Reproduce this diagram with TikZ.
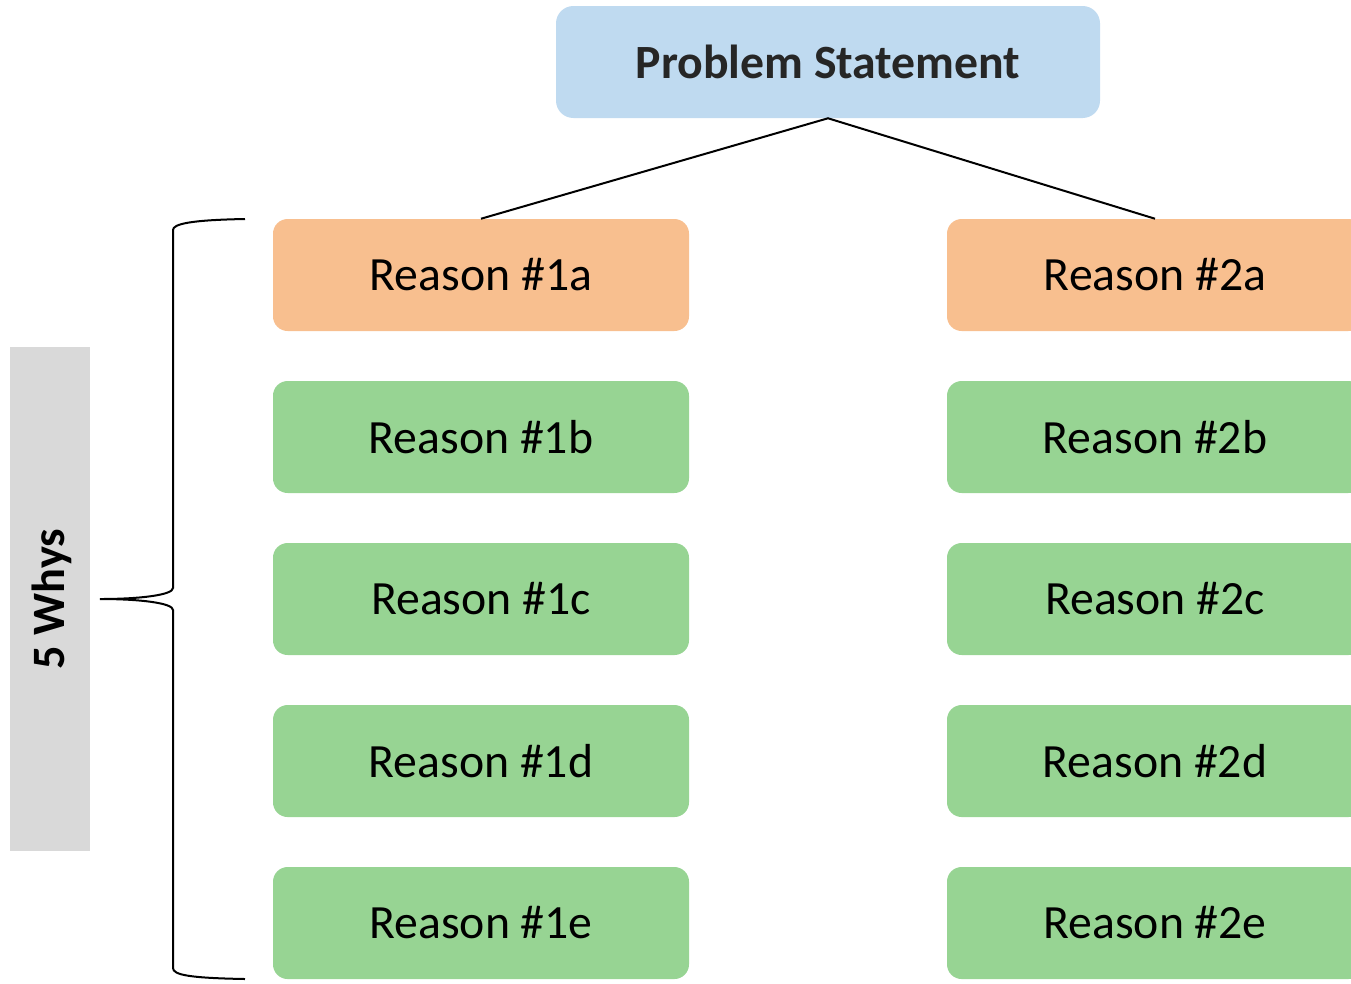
\documentclass[tikz,border=0pt]{standalone}
\usepackage{fontspec}
\setmainfont{Carlito}
\definecolor{psblue}{HTML}{BFDAF0}
\definecolor{orng}{HTML}{F8BF8F}
\definecolor{grn}{HTML}{97D493}
\definecolor{gry}{HTML}{D9D9D9}
\definecolor{dtext}{HTML}{262626}
\begin{document}
\begin{tikzpicture}[x=0.75pt,y=-0.75pt,
  box/.style={rounded corners=11pt, minimum width=312pt, minimum height=84pt, inner sep=0pt, font=\fontsize{35.8}{40}\selectfont, text=black},
  obox/.style={box, fill=orng},
  gbox/.style={box, fill=grn},
  link/.style={draw=black, line width=1.5pt}]
\useasboundingbox (0,0) rectangle (1351,983);
\clip (0,0) rectangle (1351,983);
\node[rounded corners=13pt, fill=psblue, minimum width=408pt, minimum height=84pt, inner sep=0pt, font=\bfseries\fontsize{35.8}{40}\selectfont, text=dtext] (ps) at (828,62) {Problem Statement};
\node[obox] (r1a) at (481,275) {Reason \#1a};
\node[gbox] (r1b) at (481,437) {Reason \#1b};
\node[gbox] (r1c) at (481,599) {Reason \#1c};
\node[gbox] (r1d) at (481,761) {Reason \#1d};
\node[gbox] (r1e) at (481,923) {Reason \#1e};
\node[obox] (r2a) at (1155,275) {Reason \#2a};
\node[gbox] (r2b) at (1155,437) {Reason \#2b};
\node[gbox] (r2c) at (1155,599) {Reason \#2c};
\node[gbox] (r2d) at (1155,761) {Reason \#2d};
\node[gbox] (r2e) at (1155,923) {Reason \#2e};
\draw[link] (r1a.north) -- (ps.south) -- (r2a.north);
\node[fill=gry, minimum width=60pt, minimum height=378pt, inner sep=0pt] (why) at (50,599) {};
\node[rotate=90, font=\bfseries\fontsize{34.8}{38}\selectfont, text=black] (whyt) at (52,599) {5 Whys};
\coordinate (btop) at (245,219);
\coordinate (bbot) at (245,979);
\coordinate (btip) at (100,599);
\draw[line width=1.5pt] (btop) .. controls (190,220) and (173,224) .. (173,230) -- (173,588) .. controls (173,595) and (140,599) .. (btip) .. controls (140,599) and (173,603) .. (173,610) -- (173,968) .. controls (173,975) and (190,978) .. (bbot);
\end{tikzpicture}
\end{document}
